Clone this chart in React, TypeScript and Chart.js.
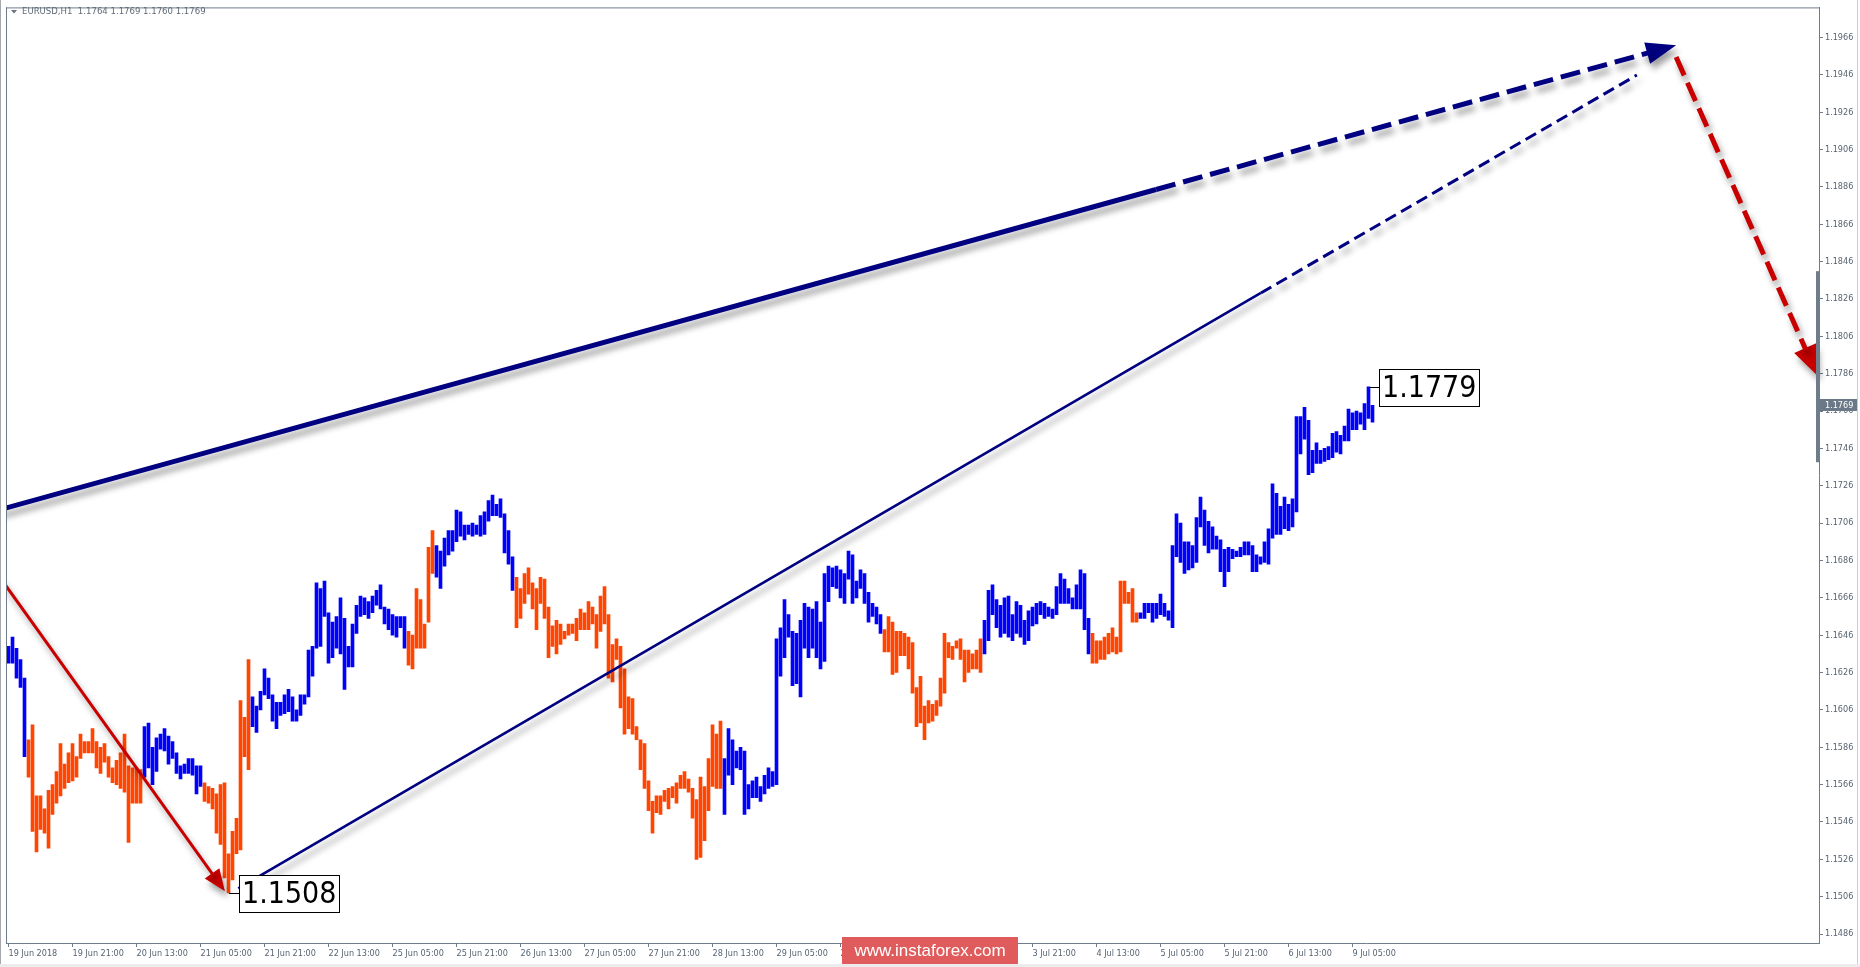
import React, { useEffect, useRef } from 'react';
import { Chart, registerables } from 'chart.js';

Chart.register(...registerables);

// ---------- data ----------
const symbolTitle = 'EURUSD,H1  1.1764 1.1769 1.1760 1.1769';

const barHighs = [
  1.1640,1.1645,1.1639,1.1633,1.1623,1.1590,1.1598,1.1560,1.1560,1.1553,
  1.1563,1.1566,1.1573,1.1588,1.1577,1.1583,1.1588,1.1581,1.1593,1.1589,
  1.1589,1.1596,1.1589,1.1586,1.1588,1.1581,1.1575,1.1579,1.1583,1.1593,
  1.1576,1.1575,1.1575,1.1574,1.1597,1.1599,1.1586,1.1591,1.1593,1.1596,
  1.1592,1.1589,1.1583,1.1576,1.1577,1.1580,1.1580,1.1576,1.1576,1.1567,
  1.1565,1.1564,1.1561,1.1566,1.1567,1.1529,1.1541,1.1548,1.1611,1.1602,
  1.1633,1.1613,1.1608,1.1616,1.1628,1.1623,1.1614,1.1610,1.1610,1.1614,
  1.1617,1.1613,1.1606,1.1614,1.1614,1.1638,1.1640,1.1674,1.1671,1.1675,
  1.1658,1.1653,1.1656,1.1666,1.1655,1.1640,1.1652,1.1662,1.1667,1.1666,
  1.1664,1.1667,1.1670,1.1673,1.1661,1.1660,1.1657,1.1656,1.1656,1.1656,
  1.1648,1.1646,1.1671,1.1665,1.1652,1.1693,1.1702,1.1694,1.1691,1.1698,
  1.1702,1.1702,1.1713,1.1712,1.1705,1.1705,1.1706,1.1705,1.1710,1.1712,
  1.1718,1.1721,1.1716,1.1719,1.1711,1.1702,1.1688,1.1677,1.1671,1.1679,
  1.1682,1.1674,1.1671,1.1677,1.1676,1.1661,1.1651,1.1654,1.1652,1.1648,
  1.1652,1.1652,1.1655,1.1660,1.1658,1.1664,1.1661,1.1657,1.1667,1.1672,
  1.1657,1.1641,1.1644,1.1640,1.1628,1.1613,1.1612,1.1597,1.1590,1.1588,
  1.1568,1.1557,1.1560,1.1560,1.1563,1.1564,1.1565,1.1567,1.1571,1.1573,
  1.1569,1.1564,1.1558,1.1570,1.1565,1.1580,1.1598,1.1593,1.1600,1.1580,
  1.1596,1.1590,1.1584,1.1586,1.1584,1.1566,1.1568,1.1570,1.1565,1.1571,
  1.1575,1.1573,1.1644,1.1650,1.1665,1.1657,1.1648,1.1647,1.1654,1.1663,
  1.1661,1.1660,1.1664,1.1653,1.1679,1.1683,1.1682,1.1683,1.1681,1.1679,
  1.1691,1.1689,1.1675,1.1681,1.1679,1.1669,1.1663,1.1661,1.1657,1.1649,
  1.1656,1.1653,1.1648,1.1648,1.1647,1.1645,1.1642,1.1618,1.1624,1.1608,
  1.1611,1.1609,1.1611,1.1623,1.1647,1.1642,1.1640,1.1643,1.1644,1.1638,
  1.1638,1.1636,1.1638,1.1644,1.1654,1.1670,1.1673,1.1665,1.1662,1.1666,
  1.1667,1.1657,1.1664,1.1662,1.1654,1.1659,1.1661,1.1663,1.1664,1.1663,
  1.1661,1.1660,1.1672,1.1679,1.1676,1.1671,1.1666,1.1673,1.1681,1.1679,
  1.1655,1.1647,1.1643,1.1643,1.1645,1.1647,1.1650,1.1645,1.1675,1.1675,
  1.1669,1.1671,1.1658,1.1658,1.1663,1.1663,1.1663,1.1663,1.1668,1.1663,
  1.1659,1.1694,1.1711,1.1706,1.1696,1.1696,1.1694,1.1709,1.1720,1.1713,
  1.1707,1.1704,1.1699,1.1697,1.1692,1.1693,1.1692,1.1691,1.1693,1.1696,
  1.1696,1.1694,1.1689,1.1688,1.1696,1.1703,1.1727,1.1722,1.1715,1.1720,
  1.1716,1.1719,1.1763,1.1763,1.1768,1.1761,1.1745,1.1749,1.1745,1.1746,
  1.1747,1.1754,1.1755,1.1753,1.1758,1.1767,1.1765,1.1766,1.1765,1.1770,
  1.1779,1.1769,
];

const barLows = [
  1.1631,1.1631,1.1623,1.1618,1.1581,1.1570,1.1541,1.1530,1.1542,1.1540,
  1.1532,1.1550,1.1556,1.1560,1.1564,1.1567,1.1568,1.1570,1.1580,1.1583,
  1.1583,1.1583,1.1575,1.1572,1.1578,1.1570,1.1567,1.1566,1.1564,1.1562,
  1.1535,1.1556,1.1556,1.1556,1.1570,1.1575,1.1566,1.1573,1.1585,1.1584,
  1.1577,1.1580,1.1572,1.1569,1.1572,1.1572,1.1571,1.1561,1.1565,1.1557,
  1.1556,1.1553,1.1540,1.1534,1.1516,1.1508,1.1515,1.1529,1.1531,1.1581,
  1.1574,1.1597,1.1594,1.1606,1.1614,1.1612,1.1600,1.1596,1.1603,1.1604,
  1.1605,1.1600,1.1600,1.1603,1.1609,1.1613,1.1624,1.1639,1.1640,1.1656,
  1.1631,1.1634,1.1639,1.1636,1.1617,1.1629,1.1629,1.1647,1.1656,1.1657,
  1.1655,1.1658,1.1662,1.1660,1.1652,1.1649,1.1646,1.1645,1.1650,1.1639,
  1.1630,1.1628,1.1639,1.1639,1.1639,1.1653,1.1679,1.1677,1.1671,1.1683,
  1.1689,1.1691,1.1696,1.1699,1.1697,1.1700,1.1699,1.1700,1.1699,1.1700,
  1.1707,1.1710,1.1710,1.1709,1.1690,1.1684,1.1670,1.1650,1.1655,1.1663,
  1.1668,1.1660,1.1649,1.1663,1.1655,1.1634,1.1640,1.1636,1.1641,1.1644,
  1.1646,1.1647,1.1643,1.1649,1.1649,1.1649,1.1652,1.1639,1.1648,1.1652,
  1.1623,1.1621,1.1633,1.1607,1.1593,1.1596,1.1593,1.1590,1.1574,1.1564,
  1.1552,1.1540,1.1551,1.1550,1.1557,1.1553,1.1559,1.1556,1.1564,1.1564,
  1.1562,1.1548,1.1526,1.1527,1.1536,1.1552,1.1565,1.1564,1.1564,1.1550,
  1.1571,1.1566,1.1575,1.1574,1.1550,1.1553,1.1559,1.1559,1.1557,1.1561,
  1.1564,1.1565,1.1566,1.1624,1.1634,1.1645,1.1619,1.1620,1.1613,1.1639,
  1.1634,1.1639,1.1634,1.1628,1.1632,1.1664,1.1672,1.1671,1.1666,1.1663,
  1.1676,1.1663,1.1666,1.1671,1.1663,1.1653,1.1656,1.1652,1.1647,1.1637,
  1.1637,1.1625,1.1626,1.1635,1.1635,1.1628,1.1615,1.1597,1.1599,1.1590,
  1.1599,1.1600,1.1603,1.1608,1.1615,1.1634,1.1633,1.1639,1.1633,1.1621,
  1.1626,1.1628,1.1628,1.1626,1.1636,1.1643,1.1657,1.1650,1.1645,1.1647,
  1.1645,1.1643,1.1647,1.1645,1.1641,1.1643,1.1651,1.1652,1.1657,1.1655,
  1.1656,1.1655,1.1657,1.1663,1.1663,1.1663,1.1660,1.1660,1.1660,1.1649,
  1.1636,1.1631,1.1631,1.1633,1.1633,1.1636,1.1637,1.1636,1.1637,1.1663,
  1.1663,1.1653,1.1653,1.1655,1.1655,1.1658,1.1653,1.1655,1.1657,1.1656,
  1.1654,1.1650,1.1688,1.1685,1.1679,1.1681,1.1682,1.1685,1.1704,1.1694,
  1.1690,1.1692,1.1692,1.1680,1.1672,1.1680,1.1687,1.1688,1.1688,1.1689,
  1.1689,1.1680,1.1680,1.1684,1.1685,1.1684,1.1698,1.1700,1.1700,1.1703,
  1.1702,1.1704,1.1712,1.1743,1.1751,1.1732,1.1733,1.1738,1.1738,1.1739,
  1.1740,1.1741,1.1744,1.1743,1.1750,1.1750,1.1756,1.1756,1.1759,1.1756,
  1.1762,1.1760,
];

// first bar of each coloured wave and its direction
const waveStartBars = [0, 5, 34, 49, 61, 100, 107, 127, 179, 219, 244, 271, 283];
const waveDirections = ['up','down','up','down','up','down','up','down','up','down','up','down','up'];

const timeLabelBars = [0,16,32,48,64,80,96,112,128,144,160,176,192,208,224,240,256,272,288,304,320,336];
const timeLabels = [
  '19 Jun 2018','19 Jun 21:00','20 Jun 13:00','21 Jun 05:00','21 Jun 21:00','22 Jun 13:00',
  '25 Jun 05:00','25 Jun 21:00','26 Jun 13:00','27 Jun 05:00','27 Jun 21:00','28 Jun 13:00',
  '29 Jun 05:00','29 Jun 21:00','2 Jul 13:00','3 Jul 05:00','3 Jul 21:00','4 Jul 13:00',
  '5 Jul 05:00','5 Jul 21:00','6 Jul 13:00','9 Jul 05:00',
];

const priceTicks = [
  1.1486,1.1506,1.1526,1.1546,1.1566,1.1586,1.1606,1.1626,1.1646,1.1666,1.1686,1.1706,1.1726,
  1.1746,1.1766,1.1786,1.1806,1.1826,1.1846,1.1866,1.1886,1.1906,1.1926,1.1946,1.1966,
];

// wave markup, in [bar index, price]
const majorWave = [[-2.1, 1.17132], [286.9, 1.18846], [416.9, 1.19619]]; // start, end of solid, arrow tip
const minorWave = [[57.45, 1.15104], [313.1, 1.18292], [407.1, 1.19459]]; // start, end of solid, end of dashes
const declineWave = [[-2.1, 1.16768], [54.1, 1.15089]];
const forecastWave = [[416.9, 1.19555], [452.2, 1.17850]];

const lowTag = { bar: 55, price: 1.1508, text: '1.1508' };
const highTag = { bar: 340, price: 1.1779, text: '1.1779' };
const currentPrice = 1.1769;
const axisBand = [1.17386, 1.18409];

const xRange = [-0.625, 452.625];
const yRange = [1.14812, 1.19821];

// ---------- style ----------
const UP = '#0000ff';
const DOWN = '#ff4500';
const NAVY = '#000080';
const RED = '#c80000';
const AXIS = '#6f7d8b';
const TEXT = '#566371';

function pickFamily(): string {
  const c = document.createElement('canvas').getContext('2d')!;
  c.font = '30px "DejaVu Sans Condensed", monospace';
  const a = c.measureText('1.1508 EURUSD Jun').width;
  c.font = '30px monospace';
  const b = c.measureText('1.1508 EURUSD Jun').width;
  return Math.abs(a - b) > 0.5 ? '"DejaVu Sans Condensed", "DejaVu Sans", sans-serif' : '"Liberation Sans", Arial, sans-serif';
}

function arrowHead(ctx: CanvasRenderingContext2D, x0: number, y0: number, x1: number, y1: number, len: number, half: number, color: string) {
  const a = Math.atan2(y1 - y0, x1 - x0);
  const bx = x1 - len * Math.cos(a);
  const by = y1 - len * Math.sin(a);
  const nx = -Math.sin(a), ny = Math.cos(a);
  ctx.beginPath();
  ctx.moveTo(x1, y1);
  ctx.lineTo(bx + nx * half, by + ny * half);
  ctx.lineTo(bx - nx * half, by - ny * half);
  ctx.closePath();
  ctx.fillStyle = color;
  ctx.fill();
  return [bx + 2 * Math.cos(a), by + 2 * Math.sin(a)];
}

function seg(ctx: CanvasRenderingContext2D, a: number[], b: number[], color: string, width: number, dash: number[]) {
  ctx.beginPath();
  ctx.setLineDash(dash);
  ctx.strokeStyle = color;
  ctx.lineWidth = width;
  ctx.lineCap = 'butt';
  ctx.moveTo(a[0], a[1]);
  ctx.lineTo(b[0], b[1]);
  ctx.stroke();
  ctx.setLineDash([]);
}

export default function App() {
  const ref = useRef<HTMLCanvasElement>(null);

  useEffect(() => {
    document.body.style.margin = '0';
    document.body.style.overflow = 'hidden';
    const canvas = ref.current!;
    const family = pickFamily();

    const colors = barHighs.map((_, i) => {
      let w = 0;
      for (let j = 0; j < waveStartBars.length; j++) if (waveStartBars[j] <= i) w = j;
      return waveDirections[w] === 'up' ? UP : DOWN;
    });

    const overlay = {
      id: 'waveOverlay',
      afterDatasetsDraw(chart: any) {
        const ctx: CanvasRenderingContext2D = chart.ctx;
        const xs = chart.scales.x, ys = chart.scales.y;
        const P = (p: number[]) => [xs.getPixelForValue(p[0]), ys.getPixelForValue(p[1])];
        const ca = chart.chartArea;
        ctx.save();
        ctx.beginPath();
        ctx.rect(ca.left, 0, chart.width - ca.left, ca.bottom);
        ctx.clip();
        ctx.shadowColor = 'rgba(0,0,0,0.38)';
        ctx.shadowBlur = 6;
        ctx.shadowOffsetX = 3;
        ctx.shadowOffsetY = 6;

        // minor wave (thin navy)
        const m0 = P(minorWave[0]), m1 = P(minorWave[1]), m2 = P(minorWave[2]);
        seg(ctx, m0, m1, NAVY, 2.6, []);
        seg(ctx, m1, m2, NAVY, 3, [12, 6]);

        // major wave (thick navy)
        const M0 = P(majorWave[0]), M1 = P(majorWave[1]), M2 = P(majorWave[2]);
        seg(ctx, M0, M1, NAVY, 5, []);
        const mb = arrowHead(ctx, M1[0], M1[1], M2[0], M2[1], 30, 11, NAVY);
        seg(ctx, M1, mb, NAVY, 5, [20, 8]);

        // decline (red solid)
        const d0 = P(declineWave[0]), d1 = P(declineWave[1]);
        const db = arrowHead(ctx, d0[0], d0[1], d1[0], d1[1], 22, 9, RED);
        seg(ctx, d0, db, RED, 3, []);

        // forecast (red dashed)
        const f0 = P(forecastWave[0]), f1 = P(forecastWave[1]);
        const fb = arrowHead(ctx, f0[0], f0[1], f1[0], f1[1], 30, 12, RED);
        seg(ctx, f0, fb, RED, 5, [20, 8]);
        ctx.restore();
      },
      afterDraw(chart: any) {
        const ctx: CanvasRenderingContext2D = chart.ctx;
        const xs = chart.scales.x, ys = chart.scales.y;
        const ca = chart.chartArea;
        ctx.save();

        // frame lines
        ctx.fillStyle = AXIS;
        ctx.fillRect(ca.left, ca.top, ca.right - ca.left, 1);
        ctx.fillRect(ca.left, ca.top, 1, ca.bottom - ca.top);
        ctx.fillStyle = '#a3a8ae';
        ctx.fillRect(0, 0, 1, chart.height);
        ctx.fillStyle = '#c9ccd0';
        ctx.fillRect(chart.width - 3, 0, 1, chart.height);
        ctx.fillStyle = '#ececec';
        ctx.fillRect(0, chart.height - 3, chart.width, 3);

        // header
        ctx.fillStyle = '#6a737d';
        ctx.beginPath();
        ctx.moveTo(11, 10); ctx.lineTo(17, 10); ctx.lineTo(14, 13.5); ctx.closePath(); ctx.fill();
        ctx.fillStyle = '#5e6a76';
        ctx.font = '9.5px ' + family;
        ctx.textBaseline = 'middle';
        ctx.textAlign = 'left';
        ctx.fillText(symbolTitle, 22, 11.5);

        // price tags
        const tag = (t: { bar: number; price: number; text: string }) => {
          const x = Math.round(xs.getPixelForValue(t.bar));
          const y = Math.round(ys.getPixelForValue(t.price));
          ctx.font = '30px ' + family;
          const w = Math.round(ctx.measureText(t.text).width) + 6;
          const h = 37;
          const bx = x + 10;
          const by = y - 18;
          ctx.fillStyle = '#000';
          ctx.fillRect(x, y, bx - x, 1);
          ctx.fillStyle = '#fff';
          ctx.fillRect(bx, by, w, h);
          ctx.strokeStyle = '#000';
          ctx.lineWidth = 1;
          ctx.strokeRect(bx + 0.5, by + 0.5, w, h);
          ctx.fillStyle = '#000';
          ctx.textBaseline = 'middle';
          ctx.fillText(t.text, bx + 3, y + 2);
        };
        tag(lowTag);
        tag(highTag);

        // axis band and current price
        const b0 = ys.getPixelForValue(axisBand[1]);
        const b1 = ys.getPixelForValue(axisBand[0]);
        ctx.fillStyle = AXIS;
        ctx.fillRect(ca.right - 3, b0, 4, b1 - b0);
        const cy = Math.round(ys.getPixelForValue(currentPrice));
        ctx.fillStyle = '#6b7887';
        ctx.fillRect(ca.right, cy - 6, 38, 12);
        ctx.fillStyle = '#ffffff';
        ctx.font = '9px ' + family;
        ctx.fillText(currentPrice.toFixed(4), ca.right + 6, cy + 0.5);

        // watermark
        ctx.fillStyle = '#e05c5c';
        ctx.fillRect(842, 937, 176, 27);
        ctx.fillStyle = '#ffffff';
        ctx.font = '17px "Liberation Sans", Arial, sans-serif';
        ctx.textAlign = 'center';
        ctx.fillText('www.instaforex.com', 930, 951);
        ctx.restore();
      },
    };

    const chart = new Chart(canvas, {
      type: 'bar',
      data: {
        datasets: [
          {
            data: barHighs.map((h, i) => ({ x: i, y: [barLows[i], h] })) as any,
            backgroundColor: colors,
            borderWidth: 0,
            barThickness: 3,
          },
        ],
      },
      options: {
        animation: false,
        responsive: false,
        devicePixelRatio: 1,
        events: [],
        layout: { padding: { left: 6, top: 3, right: 0, bottom: 0 } },
        plugins: { legend: { display: false }, tooltip: { enabled: false }, title: { display: false } },
        scales: {
          x: {
            type: 'linear',
            min: xRange[0],
            max: xRange[1],
            offset: false,
            grid: { display: true, offset: false, drawOnChartArea: false, drawTicks: true, tickLength: 4, color: AXIS },
            border: { display: true, color: AXIS, width: 1 },
            ticks: {
              autoSkip: false,
              maxRotation: 0,
              minRotation: 0,
              align: 'start',
              padding: 1,
              color: TEXT,
              font: { size: 9, family },
              callback: (_v: any, i: number) => timeLabels[i] ?? '',
            },
            afterBuildTicks: (s: any) => {
              s.ticks = timeLabelBars.map((v) => ({ value: v }));
            },
            afterFit: (s: any) => {
              s.height = 24;
            },
          } as any,
          y: {
            type: 'linear',
            position: 'right',
            min: yRange[0],
            max: yRange[1],
            grid: { display: true, drawOnChartArea: false, drawTicks: true, tickLength: 4, color: AXIS },
            border: { display: true, color: AXIS, width: 1 },
            ticks: {
              padding: 2,
              color: TEXT,
              font: { size: 9, family },
              callback: (v: any) => Number(v).toFixed(4),
            },
            afterBuildTicks: (s: any) => {
              s.ticks = priceTicks.map((v) => ({ value: v }));
            },
            afterFit: (s: any) => {
              s.width = 41;
            },
          } as any,
        },
      },
      plugins: [overlay],
    });

    return () => chart.destroy();
  }, []);

  return (
    <div style={{ width: 1860, height: 967, background: '#ffffff', position: 'relative' }}>
      <canvas ref={ref} width={1860} height={967} style={{ display: 'block' }} />
    </div>
  );
}
